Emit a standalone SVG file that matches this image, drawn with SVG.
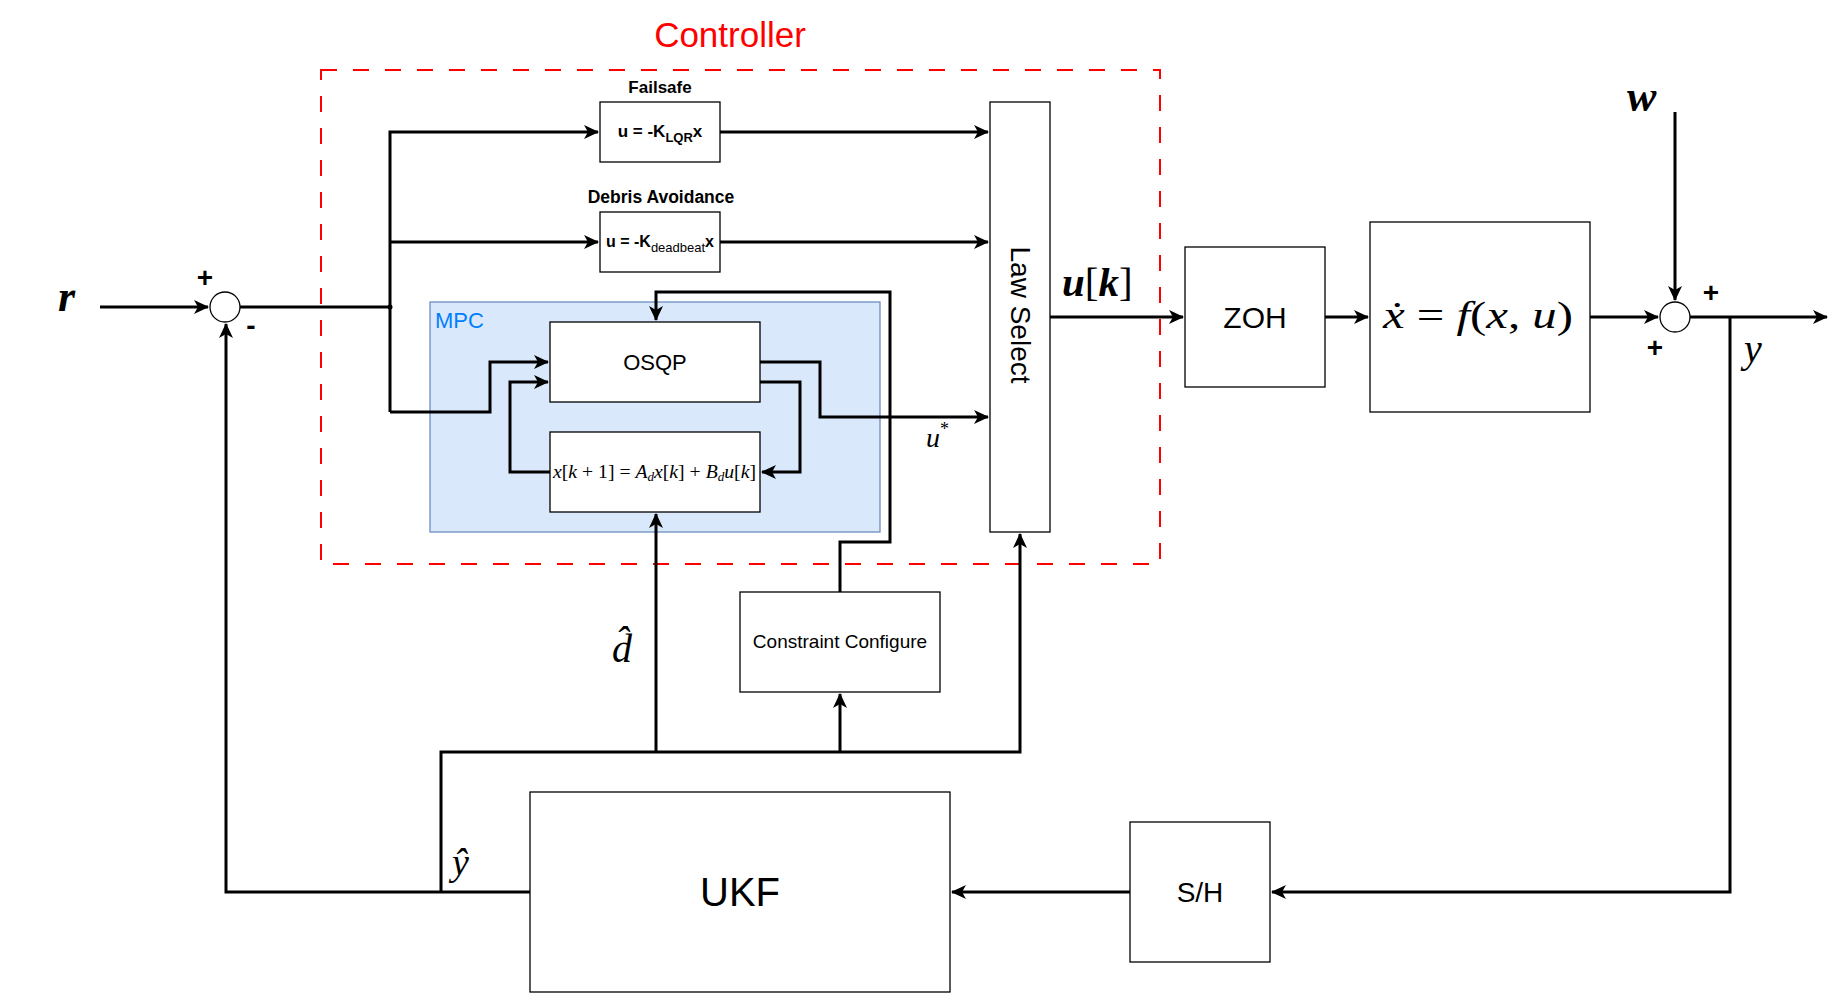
<svg xmlns="http://www.w3.org/2000/svg" width="1829" height="994" viewBox="0 0 1829 994">
<style>
.box{fill:#fff;stroke:#000;stroke-width:1.3}
.ln{fill:none;stroke:#000;stroke-width:3;stroke-linejoin:miter}
.sans{font-family:"Liberation Sans",Arial,sans-serif;fill:#000}
.math{font-family:"Liberation Serif","DejaVu Serif",serif;font-style:italic;fill:#000}
.up{font-style:normal}
.sg{font-family:"Liberation Sans",Arial,sans-serif;font-weight:bold;font-size:28px}
</style>
<defs>
<marker id="arr" markerUnits="userSpaceOnUse" markerWidth="16" markerHeight="16" refX="14" refY="7" orient="auto" viewBox="0 0 16 14">
<path d="M0,0 L15,7 L0,14 L4,7 Z" fill="#000"/>
</marker>
</defs>
<rect width="1829" height="994" fill="#fff"/>

<g id="controller">
<rect x="321" y="70" width="839" height="494" fill="none" stroke="#ff0000" stroke-width="2" stroke-dasharray="16 16"/>
<text class="sans" x="730" y="47" font-size="35" style="fill:#ff0000" text-anchor="middle">Controller</text>
</g>

<g id="mpc">
<rect x="430" y="302" width="450" height="230" fill="#dae8fc" stroke="#6c8ebf" stroke-width="1.3"/>
<text class="sans" x="435" y="328" font-size="22" style="fill:#007fff">MPC</text>
</g>

<g id="failsafe">
<text class="sans" x="660" y="93" font-size="17" font-weight="bold" text-anchor="middle">Failsafe</text>
<rect class="box" x="600" y="102" width="120" height="60"/>
<text class="sans" x="660" y="137" font-size="17" font-weight="bold" text-anchor="middle">u = -K<tspan font-size="13" dy="5">LQR</tspan><tspan dy="-5">x</tspan></text>
</g>

<g id="debris">
<text class="sans" x="661" y="203" font-size="17.5" font-weight="bold" text-anchor="middle">Debris Avoidance</text>
<rect class="box" x="600" y="212" width="120" height="60"/>
<text class="sans" x="660" y="247" font-size="16" font-weight="bold" text-anchor="middle">u = -K<tspan font-size="13" font-weight="normal" dy="5">deadbeat</tspan><tspan dy="-5">x</tspan></text>
</g>

<g id="osqp">
<rect class="box" x="550" y="322" width="210" height="80"/>
<text class="sans" x="655" y="370" font-size="22" text-anchor="middle">OSQP</text>
</g>

<g id="model">
<rect class="box" x="550" y="432" width="210" height="80"/>
<text class="math" x="553" y="478" font-size="18" textLength="203" lengthAdjust="spacingAndGlyphs">x<tspan class="up">[</tspan>k<tspan class="up"> + 1] = </tspan>A<tspan font-size="12" dy="3">d</tspan><tspan dy="-3">x</tspan><tspan class="up">[</tspan>k<tspan class="up">] + </tspan>B<tspan font-size="12" dy="3">d</tspan><tspan dy="-3">u</tspan><tspan class="up">[</tspan>k<tspan class="up">]</tspan></text>
</g>

<g id="lawselect">
<rect class="box" x="990" y="102" width="60" height="430"/>
<text class="sans" x="0" y="0" font-size="28" text-anchor="middle" dominant-baseline="central" transform="translate(1020,315) rotate(90)">Law Select</text>
</g>

<g id="constraint">
<rect class="box" x="740" y="592" width="200" height="100"/>
<text class="sans" x="840" y="648" font-size="19" text-anchor="middle">Constraint Configure</text>
</g>

<g id="zoh">
<rect class="box" x="1185" y="247" width="140" height="140"/>
<text class="sans" x="1255" y="328" font-size="30" text-anchor="middle">ZOH</text>
</g>

<g id="plant">
<rect class="box" x="1370" y="222" width="220" height="190"/>
<text class="math" x="1383" y="328" font-size="38" textLength="190" lengthAdjust="spacingAndGlyphs">ẋ<tspan class="up"> = </tspan>f<tspan class="up">(</tspan>x<tspan class="up">, </tspan>u<tspan class="up">)</tspan></text>
</g>

<g id="ukf">
<rect class="box" x="530" y="792" width="420" height="200"/>
<text class="sans" x="740" y="906" font-size="40" text-anchor="middle">UKF</text>
</g>

<g id="sh">
<rect class="box" x="1130" y="822" width="140" height="140"/>
<text class="sans" x="1200" y="902" font-size="28" text-anchor="middle">S/H</text>
</g>

<g id="sum1">
<circle cx="225" cy="307" r="15" fill="#fff" stroke="#000" stroke-width="1.3"/>
<text class="sg" x="205" y="287" text-anchor="middle">+</text>
<text class="sg" x="251" y="335" text-anchor="middle">-</text>
</g>

<g id="sum2">
<circle cx="1675" cy="317" r="15" fill="#fff" stroke="#000" stroke-width="1.3"/>
<text class="sg" x="1711" y="302" text-anchor="middle">+</text>
<text class="sg" x="1655" y="357" text-anchor="middle">+</text>
</g>

<g id="connectors">
<path class="ln" d="M100,307 H208" marker-end="url(#arr)"/>
<path class="ln" d="M240,307 H390"/>
<circle cx="390" cy="307" r="2.5" fill="#000"/>
<path class="ln" d="M390,412 V132 H598" marker-end="url(#arr)"/>
<path class="ln" d="M390,242 H598" marker-end="url(#arr)"/>
<path class="ln" d="M390,412 H490 V362 H548" marker-end="url(#arr)"/>
<path class="ln" d="M720,132 H988" marker-end="url(#arr)"/>
<path class="ln" d="M720,242 H988" marker-end="url(#arr)"/>
<path class="ln" d="M760,362 H820 V417 H988" marker-end="url(#arr)"/>
<path class="ln" d="M760,382 H800 V472 H762" marker-end="url(#arr)"/>
<path class="ln" d="M550,472 H510 V382 H548" marker-end="url(#arr)"/>
<path class="ln" d="M840,592 V542 H890 V292 H656 V320" marker-end="url(#arr)"/>
<path class="ln" d="M1050,317 H1183" marker-end="url(#arr)"/>
<path class="ln" d="M1325,317 H1368" marker-end="url(#arr)"/>
<path class="ln" d="M1590,317 H1658" marker-end="url(#arr)"/>
<path class="ln" d="M1675,112 V300" marker-end="url(#arr)"/>
<path class="ln" d="M1690,317 H1827" marker-end="url(#arr)"/>
<path class="ln" d="M1730,317 V892 H1272" marker-end="url(#arr)"/>
<path class="ln" d="M1130,892 H952" stroke-width="4" marker-end="url(#arr)"/>
<path class="ln" d="M530,892 H226 V324" marker-end="url(#arr)"/>
<path class="ln" d="M441,892 V752 H1020 V534" marker-end="url(#arr)"/>
<path class="ln" d="M656,752 V514" marker-end="url(#arr)"/>
<path class="ln" d="M840,752 V694" marker-end="url(#arr)"/>
</g>

<g id="labels">
<text class="math" x="58" y="311" font-size="44" font-weight="bold">r</text>
<text class="math" x="1627" y="111" font-size="44" font-weight="bold">w</text>
<text class="math" x="1744" y="362" font-size="40">y</text>
<text class="math" x="1062" y="296" font-size="41"><tspan font-weight="bold">u</tspan><tspan class="up">[</tspan><tspan font-weight="bold">k</tspan><tspan class="up">]</tspan></text>
<text class="math" x="926" y="447" font-size="28">u<tspan class="up" font-size="18" dy="-12">*</tspan></text>
<text class="math" x="612" y="662" font-size="40">d&#x302;</text>
<text class="math" x="452" y="875" font-size="38">ŷ</text>
</g>
</svg>
